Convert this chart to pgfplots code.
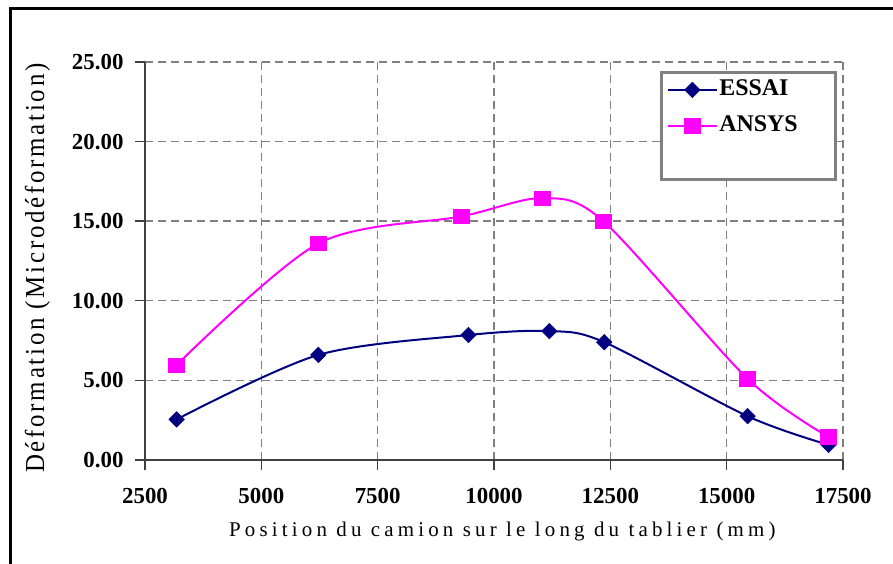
\documentclass[border=0pt]{standalone}
\usepackage{fontspec}
\setmainfont{Liberation Serif}
\usepackage{pgfplots}
\pgfplotsset{compat=1.18}

\definecolor{essai}{RGB}{0,0,128}
\definecolor{ansys}{RGB}{255,0,255}
\definecolor{gridgray}{RGB}{128,128,128}
\definecolor{axisgray}{RGB}{64,64,64}

\begin{document}
\begin{tikzpicture}
\useasboundingbox (0,0) rectangle (893bp,564bp);
% outer frame of the figure
\draw[line width=3bp] (10bp,-5bp) -- (10bp,555bp) -- (900bp,555bp);
\begin{axis}[
  at={(145bp,104bp)}, anchor=south west,
  scale only axis, width=698bp, height=398bp,
  xmin=2500, xmax=17500, ymin=0, ymax=25,
  xtick={2500,5000,...,17500}, ytick={0,5,...,25},
  scaled x ticks=false,
  axis x line*=bottom, axis y line*=left,
  axis line style={line width=1.8bp, axisgray, -},
  tick align=outside, major tick length=10bp,
  tick style={line width=1.4bp, axisgray},
  grid=major,
  major grid style={gridgray, line width=1.4bp, dash pattern=on 8bp off 5bp},
  /pgf/number format/assume math mode=true,
  ticklabel style={font=\fontsize{23}{26}\selectfont\bfseries},
  x tick label style={/pgf/number format/1000 sep={}, yshift=-15bp},
  y tick label style={/pgf/number format/.cd, fixed, fixed zerofill, precision=2,
    /tikz/.cd, xshift=-8bp},
  xlabel={\addfontfeature{LetterSpace=20}Position du camion sur le long du tablier (mm)},
  ylabel={\scalebox{1}[1.1]{\addfontfeature{LetterSpace=11}Déformation (Microdéformation)}},
  xlabel style={font=\fontsize{21}{24}\selectfont,
    at={(axis description cs:0.512,-0.193)}, anchor=base},
  ylabel style={font=\fontsize{25}{28}\selectfont,
    at={(axis description cs:-0.154,0.482)}, anchor=center},
  legend cell align=left,
  legend style={at={(0.738,0.977)}, anchor=north west,
    draw=gray, line width=2.5bp, fill=white,
    font=\fontsize{24}{27}\selectfont\bfseries,
    inner xsep=6bp, inner ysep=7bp, row sep=15bp,
    nodes={text height=16bp, text depth=5bp, inner ysep=0pt, inner xsep=2bp,
      text width=108bp}},
  legend image code/.code={%
    \draw[mark repeat=2, mark phase=2, #1]
      plot coordinates {(0bp,0bp) (24bp,0bp) (48bp,0bp)};},
]
\addplot[essai, line width=2bp, smooth, tension=0.5,
  mark=square*, mark size=5.5bp, mark options={rotate=45, line width=0.5bp, fill=essai}]
  coordinates {(3180,2.55) (6225,6.6) (9450,7.85) (11190,8.1) (12370,7.4) (15450,2.75) (17190,0.95)};
\addlegendentry{ESSAI}
\addplot[ansys, line width=2bp, smooth, tension=0.5,
  mark=square*, mark size=8bp, mark options={line width=0.5bp, fill=ansys, yscale=0.9}]
  coordinates {(3180,5.97) (6225,13.6) (9300,15.3) (11040,16.45) (12350,15.0) (15450,5.1) (17190,1.45)};
\addlegendentry{ANSYS}
\addlegendimage{empty legend}
\addlegendentry{}
\end{axis}
\end{tikzpicture}
\end{document}
